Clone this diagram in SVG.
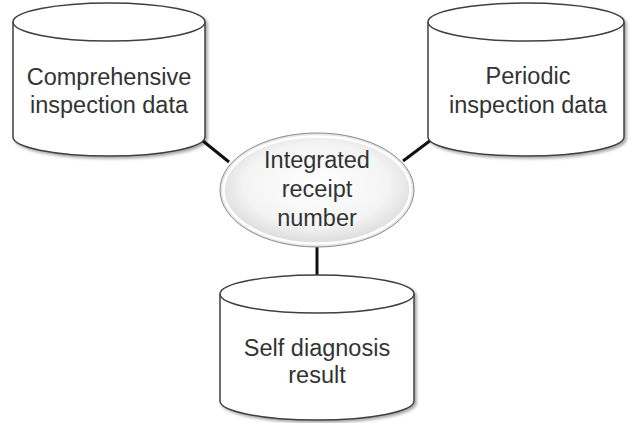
<svg xmlns="http://www.w3.org/2000/svg" width="635" height="423" viewBox="0 0 635 423">
<style>
.cyl{fill:#fff;stroke:#404040;stroke-width:1.5}
.lbl{font-family:"Liberation Sans",Arial,sans-serif;font-size:23.5px;fill:#333;text-anchor:middle}
.conn{stroke:#111;stroke-width:3;fill:none}
</style>
<defs>
<filter id="sh" x="-10%" y="-10%" width="130%" height="130%">
<feDropShadow dx="2" dy="2" stdDeviation="1.5" flood-color="#000" flood-opacity="0.35"/>
</filter>
<radialGradient id="eg" cx="50%" cy="45%" r="55%">
<stop offset="0" stop-color="#ffffff"/>
<stop offset="0.7" stop-color="#f4f4f4"/>
<stop offset="1" stop-color="#dcdcdc"/>
</radialGradient>
</defs>
<rect width="635" height="423" fill="#fff"/>
<g id="connectors">
<line class="conn" x1="203" y1="141" x2="229" y2="162"/>
<line class="conn" x1="403" y1="161" x2="431" y2="140"/>
<line class="conn" x1="317" y1="246" x2="317" y2="276"/>
</g>
<g id="comprehensive">
<g filter="url(#sh)">
<path class="cyl" d="M13,22 A96,19 0 0,1 205,22 L205,137 A96,19 0 0,1 13,137 Z"/>
</g>
<path class="cyl" d="M13,22 A96,19 0 0,0 205,22" fill="none"/>
<text class="lbl" x="109" y="85">Comprehensive</text>
<text class="lbl" x="109" y="113">inspection data</text>
</g>
<g id="periodic">
<g filter="url(#sh)">
<path class="cyl" d="M428,22 A98,19 0 0,1 624,22 L624,137 A98,19 0 0,1 428,137 Z"/>
</g>
<path class="cyl" d="M428,22 A98,19 0 0,0 624,22" fill="none"/>
<text class="lbl" x="528" y="84">Periodic</text>
<text class="lbl" x="528" y="113">inspection data</text>
</g>
<g id="self">
<g filter="url(#sh)">
<path class="cyl" d="M220,294 A97,19 0 0,1 414,294 L414,401 A97,19 0 0,1 220,401 Z"/>
</g>
<path class="cyl" d="M220,294 A97,19 0 0,0 414,294" fill="none"/>
<text class="lbl" x="317" y="356">Self diagnosis</text>
<text class="lbl" x="317" y="383">result</text>
</g>
<g id="integrated">
<ellipse cx="317" cy="190" rx="97" ry="57" fill="#e6e6e6" stroke="#8c8c8c" stroke-width="1"/>
<ellipse cx="317" cy="190" rx="93.5" ry="53.5" fill="url(#eg)" stroke="#fff" stroke-width="2.5"/>
<text class="lbl" x="317" y="168">Integrated</text>
<text class="lbl" x="317" y="197">receipt</text>
<text class="lbl" x="317" y="226">number</text>
</g>
</svg>
